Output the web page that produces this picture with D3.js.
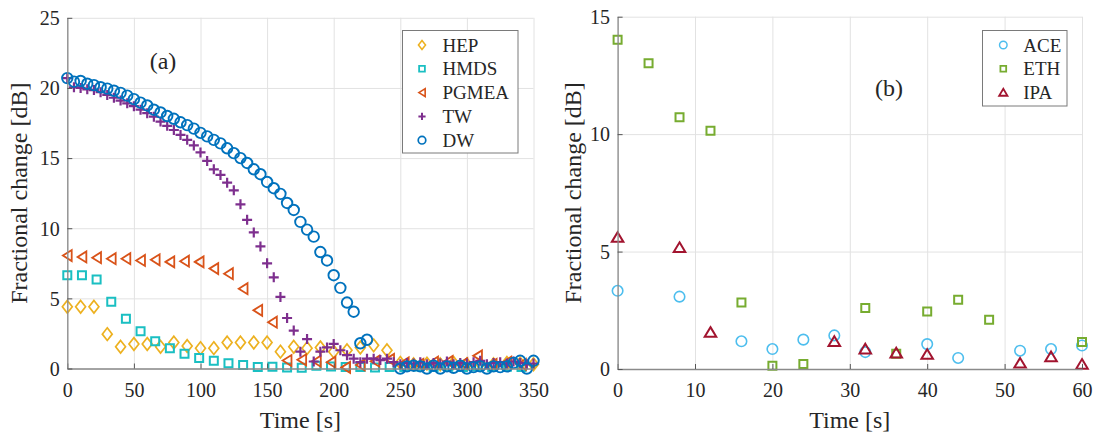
<!DOCTYPE html>
<html><head><meta charset="utf-8">
<script src="https://cdn.jsdelivr.net/npm/d3@7"></script>
<style>
body{margin:0;background:#fff}
svg{display:block}
text{font-family:"Liberation Serif","Times New Roman",serif;fill:#262626}
</style>
</head><body><svg id="c" width="1097" height="434"></svg>
<script>
// ---------- Panel (a) data ----------
const hepT = [0,10,20,30,40,50,60,70,80,90,100,110,120,130,140,150,160,170,180,190,200,210,220,230,240,250,260,270,280,290,300,310,320,330,340,350];
const hepV = [4.4,4.4,4.4,2.45,1.55,1.75,1.75,1.55,1.85,1.6,1.45,1.45,1.85,1.85,1.85,1.85,1.2,1.55,1.45,1.5,1.2,1.3,1.5,1.65,1.3,0.4,0.3,0.35,0.3,0.4,0.3,0.35,0.3,0.4,0.35,0.3];
const hmdsT = [0,11,22,33,44,55,66,77,88,99,110,121,132,143,154,165,176,187,198,209,220,231,242,253,264,275,286,297,308,319,330,341];
const hmdsV = [6.65,6.65,6.35,4.75,3.55,2.65,1.95,1.45,1.05,0.75,0.55,0.38,0.25,0.1,0.12,0.08,0.05,0.2,0.14,0.1,0.1,0.08,0.1,0.1,0.15,0.1,0.12,0.1,0.15,0.1,0.12,0.1];
const pgmeaT = [0,11,22,33,44,55,66,77,88,99,110,121,132,143,154,165,176,187,198,209,220,231,242,253,264,275,286,297,308,319,330,341];
const pgmeaV = [8.05,7.95,7.9,7.83,7.83,7.7,7.75,7.6,7.65,7.6,7.12,6.76,5.69,4.15,3.3,0.57,0.62,0.52,0.45,0.08,0.25,0.52,0.65,0.4,0.3,0.45,0.5,0.35,0.9,0.3,0.45,0.3];
const twT = [0,5,10,15,20,25,30,35,40,45,50,55,60,65,70,75,80,85,90,95,100,105,110,115,120,125,130,135,140,145,150,155,160,165,170,175,180,185,190,195,200,205,210,215,220,225,230,235,240,245,250,255,260,265,270,275,280,285,290,295,300,305,310,315,320,325,330,335,340,345,350];
const twV = [20.7,20.05,20.0,19.9,19.85,19.7,19.5,19.3,19.1,18.9,18.7,18.45,18.2,17.95,17.6,17.3,17.0,16.65,16.3,15.9,15.4,14.8,14.2,13.8,13.25,12.7,11.7,10.6,9.7,8.7,7.5,6.5,5.1,3.6,2.7,1.2,2.1,0.5,1.2,1.5,1.75,1.3,0.95,0.7,0.45,0.7,0.7,0.6,0.7,0.45,0.3,0.4,0.35,0.45,0.3,0.4,0.35,0.5,0.3,0.4,0.35,0.45,0.55,0.3,0.4,0.45,0.35,0.5,0.4,0.3,0.35];
const dwT = [0,5,10,15,20,25,30,35,40,45,50,55,60,65,70,75,80,85,90,95,100,105,110,115,120,125,130,135,140,145,150,155,160,165,170,175,180,185,190,195,200,205,210,215,220,225,250,255,260,265,270,275,280,285,290,295,300,305,310,315,320,325,330,335,340,345,350];
const dwV = [20.7,20.45,20.5,20.3,20.2,20.05,19.95,19.8,19.65,19.45,19.2,18.95,18.75,18.45,18.25,18.0,17.8,17.55,17.35,17.1,16.8,16.55,16.3,16.05,15.7,15.35,15.0,14.65,14.2,13.85,13.3,12.85,12.45,11.8,11.3,10.45,9.9,9.4,8.3,7.7,6.65,5.75,4.7,4.05,1.8,2.05,0.0,0.15,0.2,0.15,0.0,0.2,0.0,0.15,0.05,0.2,0.0,0.1,0.15,0.0,0.15,0.1,0.15,0.4,0.55,0.0,0.55];
const xTicksA = [0,50,100,150,200,250,300,350];
const yTicksA = [0,5,10,15,20,25];

// ---------- Panel (b) data ----------
const aceT = [0,8,16,20,24,28,32,40,44,52,56,60];
const aceV = [3.33,3.08,1.18,0.85,1.25,1.43,0.72,1.06,0.47,0.78,0.85,1.0];
const ethT = [0,4,8,12,16,20,24,32,36,40,44,48,60];
const ethV = [14.02,13.02,10.72,10.14,2.83,0.14,0.21,2.6,0.65,2.45,2.95,2.1,1.15];
const ipaT = [0,8,12,28,32,36,40,52,56,60];
const ipaV = [5.6,5.17,1.56,1.17,0.85,0.68,0.62,0.25,0.52,0.2];
const xTicksB = [0,10,20,30,40,50,60];
const yTicksB = [0,5,10,15];

const svg = d3.select("#c");
svg.append("rect").attr("width",1097).attr("height",434).attr("fill","#fff");

function shapePath(kind, s){
  // s = nominal size in px
  const h = s/2;
  switch(kind){
    case "diamond": return `M0,${-h*1.15}L${h*0.9},0L0,${h*1.15}L${-h*0.9},0Z`;
    case "square": return `M${-h*0.8},${-h*0.8}H${h*0.8}V${h*0.8}H${-h*0.8}Z`;
    case "triLeft": return `M${-h*0.8},0L${h*0.8},${-h}L${h*0.8},${h}Z`;
    case "triUp": return `M0,${-h*0.95}L${h*1.05},${h*0.8}L${-h*1.05},${h*0.8}Z`;
    case "plus": return `M${-h},0H${h}M0,${-h}V${h}`;
    case "circle": return d3.arc()({innerRadius:0,outerRadius:h,startAngle:0,endAngle:2*Math.PI});
  }
}

function drawPanel(cfg){
  const g = svg.append("g");
  const x = cfg.x, y = cfg.y;
  const [x0,x1] = x.range(), [y0,y1] = y.range();
  // grid
  g.append("g").attr("transform",`translate(0,${y0})`)
    .call(d3.axisBottom(x).tickValues(cfg.xt).tickSize(-(y0-y1)).tickFormat(""))
    .call(a=>{a.select(".domain").remove(); a.selectAll("line").attr("stroke","#e2e2e2").attr("stroke-width",1);});
  g.append("g").attr("transform",`translate(${x0},0)`)
    .call(d3.axisLeft(y).tickValues(cfg.yt).tickSize(-(x1-x0)).tickFormat(""))
    .call(a=>{a.select(".domain").remove(); a.selectAll("line").attr("stroke","#e2e2e2").attr("stroke-width",1);});
  // series
  cfg.series.forEach(s=>{
    const p = shapePath(s.shape, s.size);
    g.append("g").selectAll("path").data(s.t.map((t,i)=>[t,s.v[i]])).join("path")
      .attr("d",p)
      .attr("transform",d=>`translate(${x(d[0])},${y(d[1])})`)
      .attr("fill","none").attr("stroke",s.color).attr("stroke-width",s.sw||1.8);
  });
  // axes
  const ax = g.append("g").attr("transform",`translate(0,${y0})`)
    .call(d3.axisBottom(x).tickValues(cfg.xt).tickSizeInner(-5).tickSizeOuter(0).tickPadding(14));
  const ay = g.append("g").attr("transform",`translate(${x0},0)`)
    .call(d3.axisLeft(y).tickValues(cfg.yt).tickSizeInner(-5).tickSizeOuter(0).tickPadding(7.5));
  [ax,ay].forEach(a=>{
    a.select(".domain").attr("stroke","#8a8a8a").attr("stroke-width",1.3);
    a.selectAll(".tick line").attr("stroke","#555").attr("stroke-width",1);
    a.selectAll(".tick text").attr("font-size",20).attr("font-family","Liberation Serif").attr("fill","#262626");
  });
  ay.selectAll(".tick text").attr("dy","0.34em");
  // labels
  g.append("text").attr("x",(x0+x1)/2).attr("y",428).attr("text-anchor","middle").attr("font-size",24).text("Time [s]");
  g.append("text").attr("transform",`translate(${cfg.ylabX},${(y0+y1)/2}) rotate(-90)`).attr("text-anchor","middle").attr("font-size",24).text("Fractional change [dB]");
  g.append("text").attr("x",cfg.tag[0]).attr("y",cfg.tag[1]).attr("text-anchor","middle").attr("font-size",24).text(cfg.tag[2]);
  // legend
  const L = cfg.legend;
  g.append("rect").attr("x",L.x).attr("y",L.y).attr("width",L.w).attr("height",L.h)
    .attr("fill","#fff").attr("stroke","#7a7a7a").attr("stroke-width",1);
  cfg.series.forEach((s,i)=>{
    const yy = L.y + L.first + i*L.step;
    g.append("path").attr("d",shapePath(s.shape, s.size*0.72)).attr("transform",`translate(${L.mx},${yy})`)
      .attr("fill","none").attr("stroke",s.color).attr("stroke-width",(s.sw||1.8)*0.9);
    g.append("text").attr("x",L.tx).attr("y",yy).attr("dy","0.35em").attr("font-size",19).attr("fill","#000").text(s.name);
  });
}

drawPanel({
  x: d3.scaleLinear([0,350],[67.3,533.5]),
  y: d3.scaleLinear([0,25],[368.5,17.8]),
  xt: xTicksA, yt: yTicksA,
  ylabX: 27,
  tag: [163,69,"(a)"],
  legend: {x:402.5,y:30.5,w:115.5,h:122.5,first:14.5,step:23.8,mx:422,tx:442.5},
  series: [
    {name:"HEP",t:hepT,v:hepV,color:"#EDB120",shape:"diamond",size:11,sw:1.7},
    {name:"HMDS",t:hmdsT,v:hmdsV,color:"#1ABFC2",shape:"square",size:10,sw:2},
    {name:"PGMEA",t:pgmeaT,v:pgmeaV,color:"#D95319",shape:"triLeft",size:11,sw:1.8},
    {name:"TW",t:twT,v:twV,color:"#7E2F8E",shape:"plus",size:10,sw:2.2},
    {name:"DW",t:dwT,v:dwV,color:"#0072BD",shape:"circle",size:10.5,sw:1.9}
  ]
});

drawPanel({
  x: d3.scaleLinear([0,60],[617.6,1082]),
  y: d3.scaleLinear([0,15],[369,16.7]),
  xt: xTicksB, yt: yTicksB,
  ylabX: 581,
  tag: [889,96,"(b)"],
  legend: {x:982.5,y:30.5,w:84.5,h:75.5,first:14.5,step:23.8,mx:1003.3,tx:1023.3},
  series: [
    {name:"ACE",t:aceT,v:aceV,color:"#4DBEEE",shape:"circle",size:10.5,sw:1.6},
    {name:"ETH",t:ethT,v:ethV,color:"#77AC30",shape:"square",size:10,sw:2},
    {name:"IPA",t:ipaT,v:ipaV,color:"#A2142F",shape:"triUp",size:11,sw:2}
  ]
});
</script></body></html>
